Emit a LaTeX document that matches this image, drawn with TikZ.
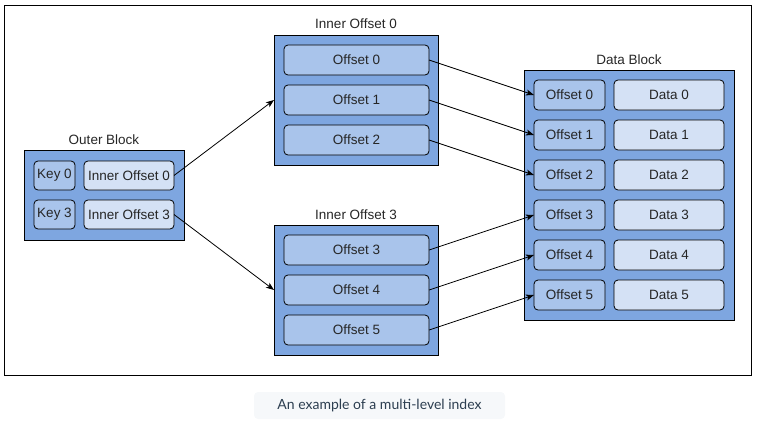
\documentclass[tikz,border=0pt]{standalone}
\usepackage{fontspec}
\setmainfont{Liberation Sans}
\newfontfamily\capfont{Lato}
\usepackage{xcolor}
\usetikzlibrary{positioning,arrows.meta}

\definecolor{blockblue}{HTML}{7EA6E0}
\definecolor{cellblue}{HTML}{A9C4EB}
\definecolor{paleblue}{HTML}{D4E1F5}
\definecolor{capgray}{HTML}{F6F8FA}
\definecolor{captext}{HTML}{2C3E50}

\begin{document}
\begin{tikzpicture}[
    x=1pt, y=-1pt,
    font=\fontsize{13.5}{16}\selectfont,
    block/.style={rectangle, draw, fill=blockblue, line width=0.8pt, inner sep=0pt, outer sep=0pt, anchor=north west},
    cell/.style={rectangle, draw, rounded corners=4pt, fill=cellblue, line width=0.8pt, inner sep=0pt, outer sep=0pt, minimum height=30pt, text=black!85},
    light/.style={cell, fill=paleblue},
    title/.style={inner sep=0pt, outer sep=0pt, text depth=0pt, text=black!85},
    link/.style={-{Stealth[length=8pt, width=6pt, inset=2pt]}, line width=0.8pt}
  ]
    \useasboundingbox (0,0) rectangle (757,420);
    \node[rectangle, draw, line width=0.8pt, inner sep=0pt, outer sep=0pt, anchor=north west, minimum width=747pt, minimum height=370pt] (frame) at (4,5) {};

    \node[block, minimum width=160pt, minimum height=90pt] (outer) at (24,150) {};
    \node[title, above=6pt of outer] {Outer Block};
    \node[cell, minimum width=41pt, minimum height=29pt, below right=11pt and 10pt of outer.north west] (key0) {Key 0};
    \node[light, minimum width=90pt, minimum height=29pt, right=9pt of key0] (inner0) {Inner Offset 0};
    \node[cell, minimum width=41pt, minimum height=29pt, below=10pt of key0] (key3) {Key 3};
    \node[light, minimum width=90pt, minimum height=29pt, right=9pt of key3] (inner3) {Inner Offset 3};

    \node[block, minimum width=164pt, minimum height=130pt] (iblock0) at (274,35) {};
    \node[title, above=6pt of iblock0] {Inner Offset 0};
    \node[cell, minimum width=145pt, below right=10pt and 10pt of iblock0.north west] (ioff0) {Offset 0};
    \node[cell, minimum width=145pt, below=10pt of ioff0] (ioff1) {Offset 1};
    \node[cell, minimum width=145pt, below=10pt of ioff1] (ioff2) {Offset 2};

    \node[block, minimum width=164pt, minimum height=130pt] (iblock3) at (274,225) {};
    \node[title, above=6pt of iblock3] {Inner Offset 3};
    \node[cell, minimum width=145pt, below right=10pt and 10pt of iblock3.north west] (ioff3) {Offset 3};
    \node[cell, minimum width=145pt, below=10pt of ioff3] (ioff4) {Offset 4};
    \node[cell, minimum width=145pt, below=10pt of ioff4] (ioff5) {Offset 5};

    \node[block, minimum width=210pt, minimum height=250pt] (data) at (524,70) {};
    \node[title, above=6pt of data] {Data Block};
    \node[cell, minimum width=71pt, below right=10pt and 10pt of data.north west] (doff0) {Offset 0};
    \node[light, minimum width=110pt, right=9pt of doff0] (dat0) {Data 0};
    \node[cell, minimum width=71pt, below=10pt of doff0] (doff1) {Offset 1};
    \node[light, minimum width=110pt, right=9pt of doff1] (dat1) {Data 1};
    \node[cell, minimum width=71pt, below=10pt of doff1] (doff2) {Offset 2};
    \node[light, minimum width=110pt, right=9pt of doff2] (dat2) {Data 2};
    \node[cell, minimum width=71pt, below=10pt of doff2] (doff3) {Offset 3};
    \node[light, minimum width=110pt, right=9pt of doff3] (dat3) {Data 3};
    \node[cell, minimum width=71pt, below=10pt of doff3] (doff4) {Offset 4};
    \node[light, minimum width=110pt, right=9pt of doff4] (dat4) {Data 4};
    \node[cell, minimum width=71pt, below=10pt of doff4] (doff5) {Offset 5};
    \node[light, minimum width=110pt, right=9pt of doff5] (dat5) {Data 5};

    \node[rectangle, rounded corners=4pt, fill=capgray, inner sep=0pt, minimum width=251pt, minimum height=27pt, text=captext, font=\capfont\fontsize{14}{16}\selectfont] (caption) at (379.5,405.5) {An example of a multi-level index};

    \draw[link] (inner0.east) -- (iblock0.west);
    \draw[link] (inner3.east) -- (iblock3.west);
    \draw[link] (ioff0.east) -- (doff0.west);
    \draw[link] (ioff1.east) -- (doff1.west);
    \draw[link] (ioff2.east) -- (doff2.west);
    \draw[link] (ioff3.east) -- (doff3.west);
    \draw[link] (ioff4.east) -- (doff4.west);
    \draw[link] (ioff5.east) -- (doff5.west);
  \end{tikzpicture}
\end{document}
